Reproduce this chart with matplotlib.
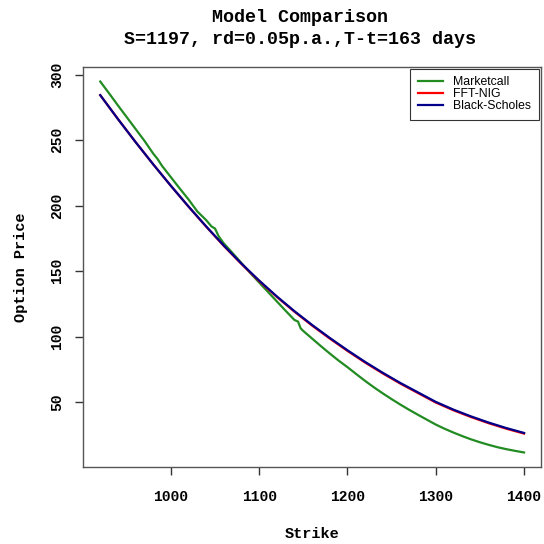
import matplotlib
matplotlib.use("Agg")
import matplotlib.pyplot as plt

# Market call prices
strike_market = [920, 930, 940, 950, 960, 970, 980, 985, 990, 1000, 1010, 1020, 1030, 1040,
                 1046, 1050, 1054, 1060, 1070, 1080, 1090, 1100, 1110, 1120, 1130, 1140,
                 1144, 1147, 1150, 1160, 1170, 1180, 1190, 1200, 1210, 1220, 1230, 1240,
                 1250, 1260, 1270, 1280, 1290, 1300, 1310, 1320, 1330, 1340, 1350, 1360,
                 1370, 1380, 1390, 1400]
market_call = [294.8, 285.8, 276.6, 267.6, 258.6, 249.6, 239.8, 235.6, 230.4, 221.8, 213.2,
               204.8, 195.6, 189.0, 184.2, 182.6, 176.8, 171.2, 163.8, 156.2, 148.6, 141.4,
               134.2, 127.0, 119.8, 112.8, 111.6, 106.4, 104.4, 98.6, 92.8, 87.2, 81.8, 76.8,
               71.5, 66.3, 61.4, 56.8, 52.4, 48.2, 44.2, 40.4, 36.7, 33.0, 29.8, 26.9, 24.2,
               21.7, 19.5, 17.5, 15.7, 14.2, 12.9, 11.7]

strike_model = [920, 940, 960, 980, 1000, 1020, 1040, 1060, 1080, 1100, 1120, 1140, 1160,
                1180, 1200, 1220, 1240, 1260, 1280, 1300, 1320, 1340, 1360, 1380, 1400]
black_scholes = [284.4, 266.2, 248.6, 231.6, 215.2, 199.4, 184.2, 169.6, 155.8, 142.9, 130.8,
                 119.5, 109.0, 99.1, 89.7, 80.8, 72.5, 64.7, 57.5, 50.3, 44.4, 39.2, 34.5,
                 30.3, 26.6]
fft_nig = [284.4, 266.2, 248.6, 231.6, 215.2, 199.3, 184.0, 169.3, 155.5, 142.5, 130.4,
           119.1, 108.5, 98.6, 89.2, 80.3, 72.0, 64.2, 57.0, 49.8, 43.9, 38.7, 34.0, 29.8,
           26.1]

legend_labels = ["Marketcall", "FFT-NIG", "Black-Scholes"]
x_ticks = [1000, 1100, 1200, 1300, 1400]
y_ticks = [50, 100, 150, 200, 250, 300]

mono = "Liberation Mono"

fig = plt.figure(figsize=(5.44, 5.44), dpi=100)
ax = fig.add_axes([83.3 / 544, 1 - 467.3 / 544, (541 - 83.3) / 544, (467.3 - 66.7) / 544])

ax.plot(strike_market, market_call, color="#228B22", lw=1.6, label=legend_labels[0])
ax.plot(strike_model, fft_nig, color="#FF0000", lw=1.6, label=legend_labels[1])
ax.plot(strike_model, black_scholes, color="#00008B", lw=1.6, label=legend_labels[2])

ax.margins(0.04)
ax.set_xticks(x_ticks)
ax.set_yticks(y_ticks)
ax.set_xticklabels([str(v) for v in x_ticks], fontfamily=mono, fontweight="bold", fontsize=10.5)
ax.set_yticklabels([str(v) for v in y_ticks], fontfamily=mono, fontweight="bold", fontsize=10.5,
                   rotation=90, va="center")
ax.tick_params(direction="out", length=6, width=1, color="#333333", pad=10)
ax.tick_params(axis="y", pad=8)
for s in ax.spines.values():
    s.set_color("#555555")
    s.set_linewidth(1.0)

ax.set_xlabel("Strike", fontfamily=mono, fontweight="bold", fontsize=11, labelpad=17)
ax.set_ylabel("Option Price", fontfamily=mono, fontweight="bold", fontsize=11, labelpad=16)

fig.text(300 / 544, 1 - 17 / 544, "Model Comparison", ha="center", va="center",
         fontfamily=mono, fontweight="bold", fontsize=13.2)
fig.text(300 / 544, 1 - 39 / 544, "S=1197, rd=0.05p.a.,T-t=163 days", ha="center", va="center",
         fontfamily=mono, fontweight="bold", fontsize=13.2)

leg = ax.legend(loc="upper right", frameon=True, fancybox=False,
                edgecolor="black", borderaxespad=0.15, handlelength=2.0, labelspacing=0.0,
                borderpad=0.65, handletextpad=0.85, prop={"family": "Liberation Sans", "size": 8.8})
leg.get_frame().set_linewidth(0.8)

fig.savefig("out.png", dpi=100)
